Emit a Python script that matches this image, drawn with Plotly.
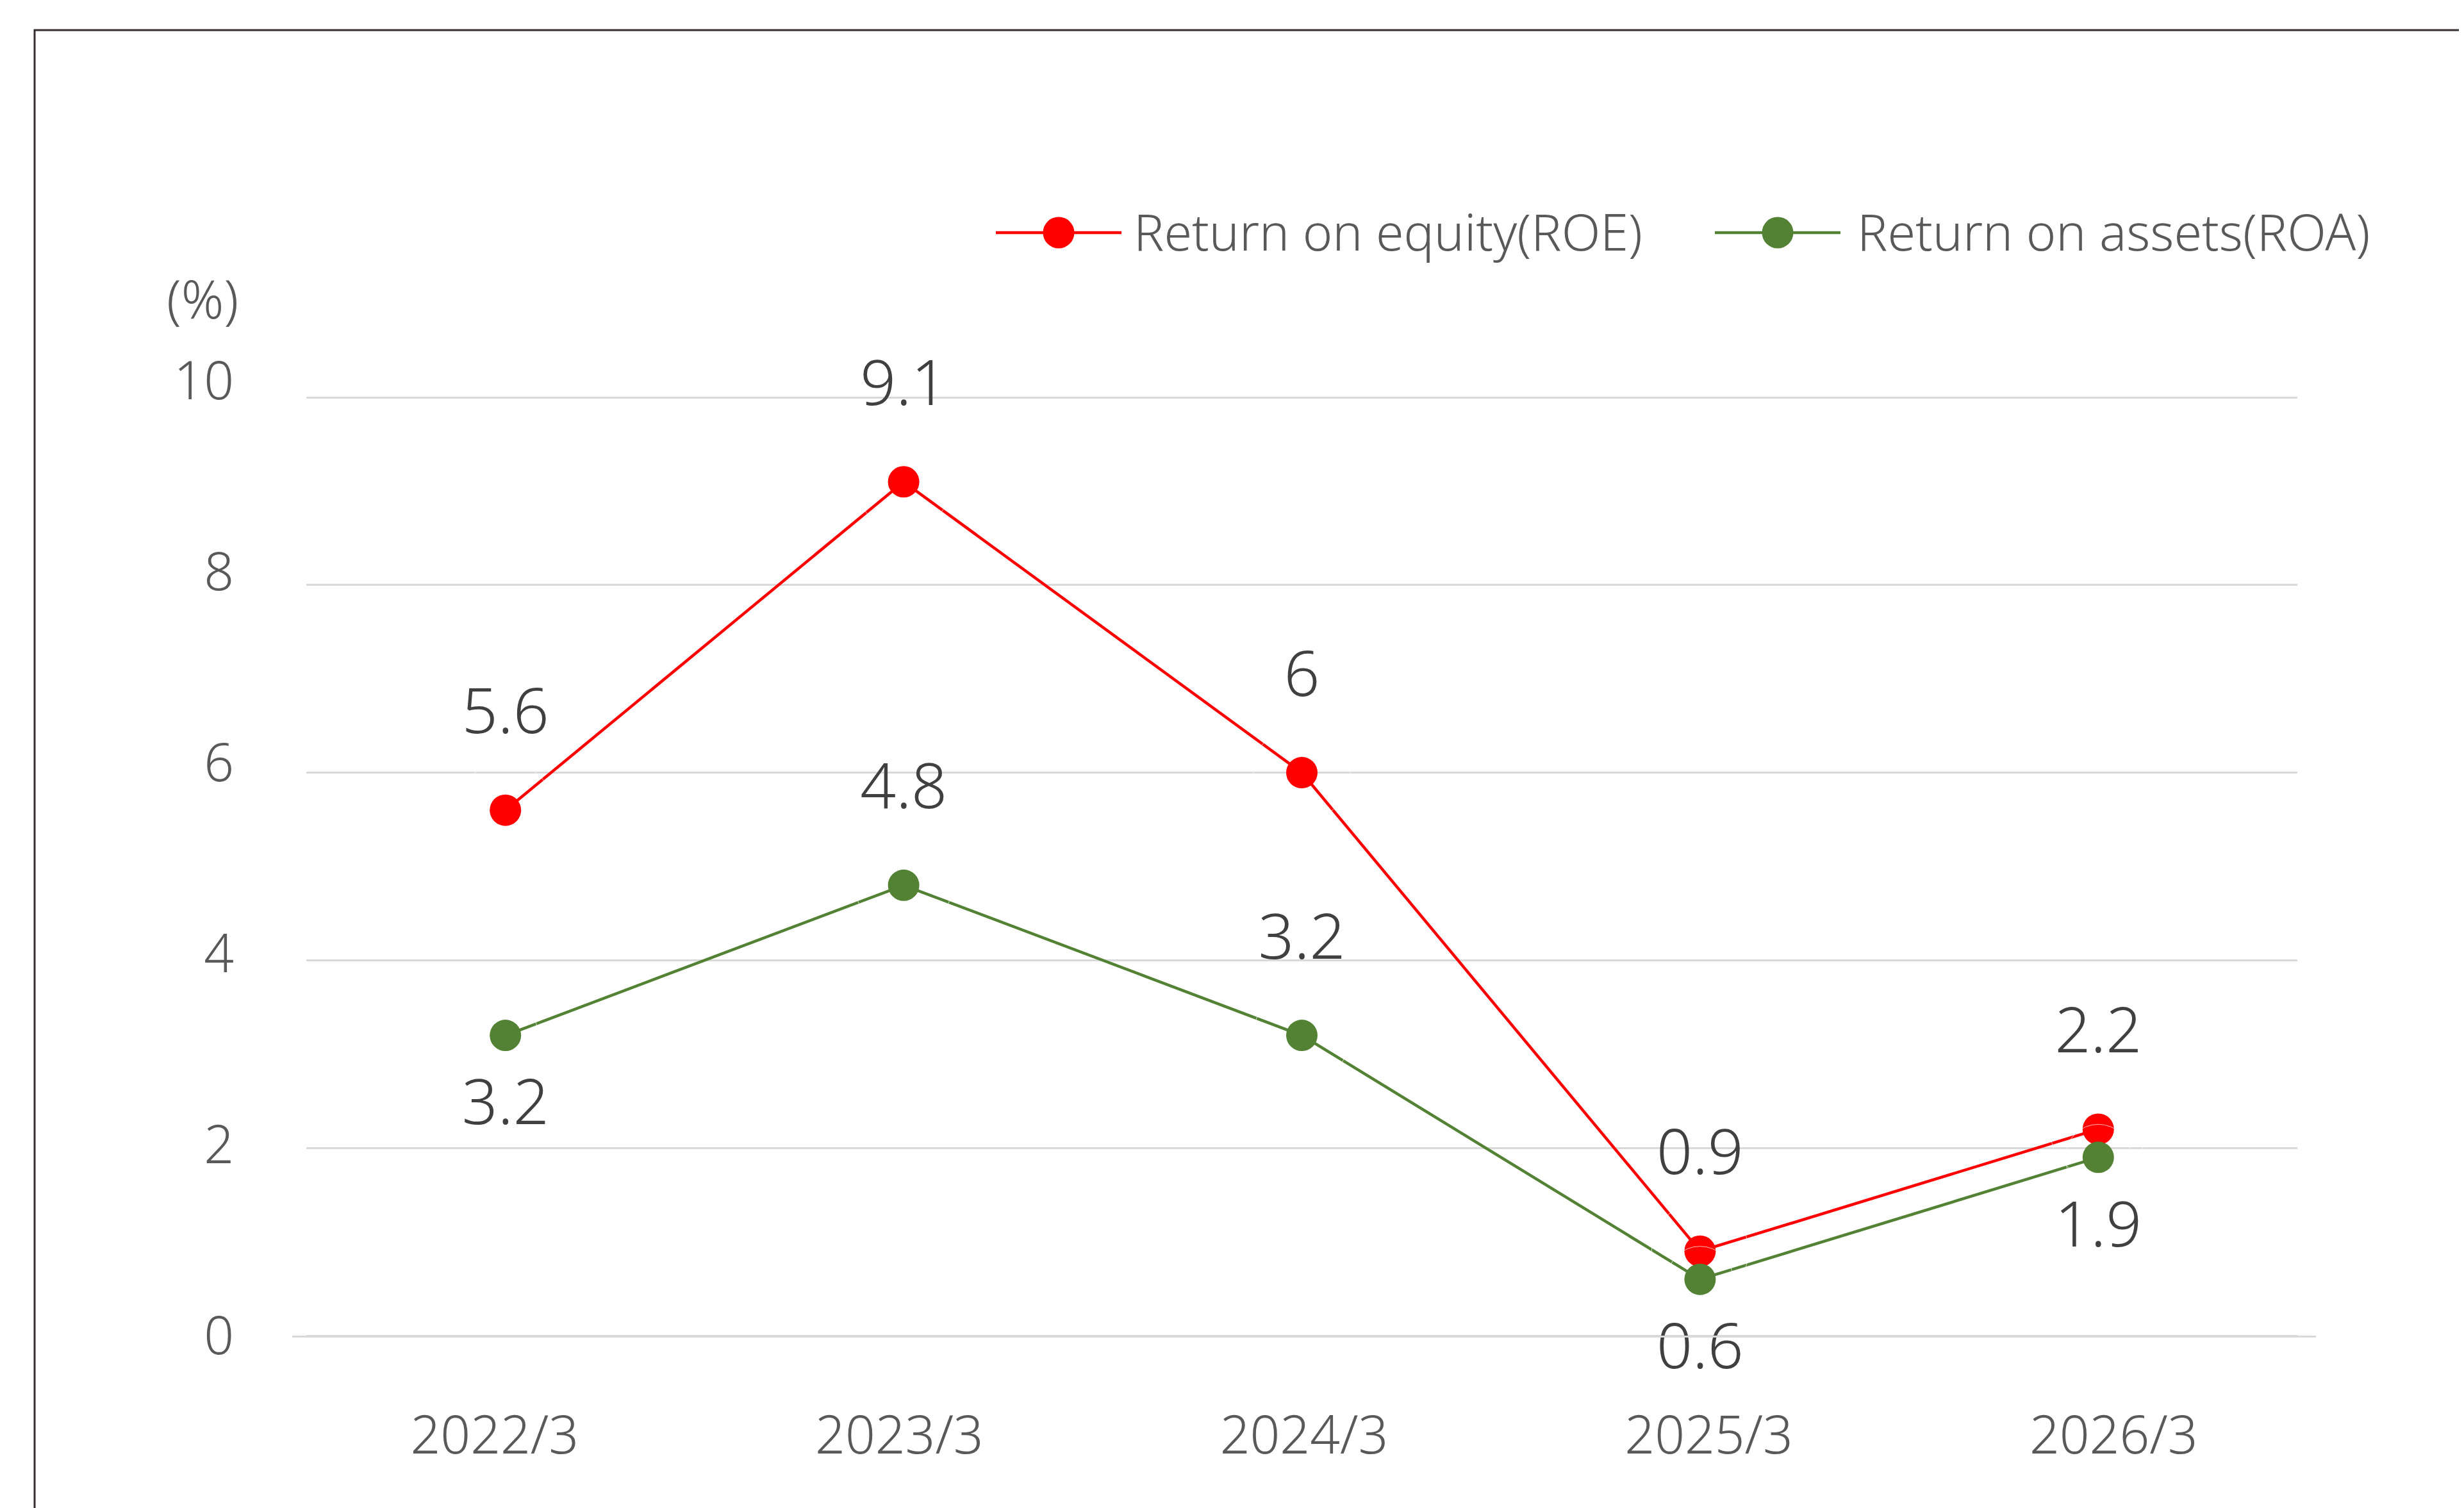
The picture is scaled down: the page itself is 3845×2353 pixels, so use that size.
import plotly.graph_objects as go

# ---------------- data ----------------
categories = ["2022/3", "2023/3", "2024/3", "2025/3", "2026/3"]
roe_values = [5.6, 9.1, 6.0, 0.9, 2.2]
roa_values = [3.2, 4.8, 3.2, 0.6, 1.9]
series_names = ["Return on equity(ROE)", "Return on assets(ROA)"]
y_ticks = [0, 2, 4, 6, 8, 10]
y_unit_label = "(%)"

roe_label_pos = ["top center", "top center", "top center", "top center", "top center"]
roa_label_pos = ["bottom center", "top center", "top center", "bottom center", "bottom center"]

# ---------------- style ----------------
W, H = 3845, 2353
OFF = 8  # page body margin
RED = "#FF0000"
GREEN = "#548235"
GRID = "#D9D9D9"
AXIS_TXT = "#595959"
LABEL_TXT = "#404040"
FONT = "Noto Sans"
WEIGHT = 300
TICK_SIZE = 82
LEG_SIZE = 79
LABEL_SIZE = 98
MARKER = 49
LINE_W = 4.5
# spacer sizes (invisible) that set the distance between point and its label
GAP_ABOVE = 151
GAP_BELOW = 103


def fx(px):
    return (px - OFF) / W


def fy(py):
    return 1 - (py - OFF) / H


# y axis: value 0 at px 2084, value 10 at px 620; pad range so edge gridlines are kept
Y0_PX, Y10_PX = 2084, 620
PAD = 0.05
px_per_unit = (Y0_PX - Y10_PX) / 10.0
y_dom = [fy(Y0_PX + PAD * px_per_unit), fy(Y10_PX - PAD * px_per_unit)]
y_rng = [0 - PAD, 10 + PAD]


def gap_sizes(positions):
    return [GAP_ABOVE if p.startswith("top") else GAP_BELOW for p in positions]


fig = go.Figure()

for vals, name, col, pos in [
    (roe_values, series_names[0], RED, roe_label_pos),
    (roa_values, series_names[1], GREEN, roa_label_pos),
]:
    fig.add_trace(go.Scatter(
        x=categories, y=vals, name=name,
        mode="lines+markers",
        line=dict(color=col, width=LINE_W),
        marker=dict(color=col, size=MARKER),
        cliponaxis=False, showlegend=False, xaxis="x", yaxis="y",
    ))

for vals, name, pos in [
    (roe_values, series_names[0], roe_label_pos),
    (roa_values, series_names[1], roa_label_pos),
]:
    fig.add_trace(go.Scatter(
        x=categories, y=vals, name=name + " labels",
        mode="markers+text",
        marker=dict(color="rgba(0,0,0,0)", size=gap_sizes(pos)),
        texttemplate="%{y}", textposition=pos,
        textfont=dict(family=FONT, size=LABEL_SIZE, color=LABEL_TXT, weight=WEIGHT),
        cliponaxis=False, showlegend=False, hoverinfo="skip",
        xaxis="x", yaxis="y",
    ))

# carrier trace for the labelled category axis
fig.add_trace(go.Scatter(
    x=categories, y=[None] * len(categories), mode="lines",
    showlegend=False, hoverinfo="skip", xaxis="x2", yaxis="y2",
))

tickfont = dict(family=FONT, size=TICK_SIZE, color=AXIS_TXT, weight=WEIGHT)

fig.update_layout(
    width=W, height=H, autosize=False,
    margin=dict(l=0, r=0, t=0, b=0, pad=0, autoexpand=False),
    paper_bgcolor="white", plot_bgcolor="rgba(0,0,0,0)",
    font=dict(family=FONT, color=AXIS_TXT, size=TICK_SIZE, weight=WEIGHT),
    showlegend=False,
    xaxis=dict(
        domain=[fx(478), fx(3585)], anchor="y", type="category",
        categoryorder="array", categoryarray=categories,
        range=[-0.5, len(categories) - 0.5], automargin=False,
        showgrid=False, showline=False, zeroline=False,
        showticklabels=False, ticks="",
    ),
    yaxis=dict(
        domain=y_dom, anchor="x", range=y_rng, automargin=False,
        tickmode="array", tickvals=y_ticks,
        showgrid=True, gridcolor=GRID, gridwidth=3,
        zeroline=False, showline=False, showticklabels=False, ticks="",
    ),
    xaxis2=dict(
        domain=[fx(456), fx(3614)], anchor="y2", type="category",
        categoryorder="array", categoryarray=categories,
        range=[-0.5, len(categories) - 0.5], automargin=False,
        showgrid=False, zeroline=False,
        showline=True, linecolor=GRID, linewidth=3,
        ticks="", tickfont=tickfont,
        ticklabelstandoff=83,
    ),
    yaxis2=dict(
        domain=[fy(2084), fy(594)], anchor="x2", range=[0, 10], automargin=False,
        tickmode="array", tickvals=y_ticks,
        showgrid=False, zeroline=False, showline=False, ticks="",
        tickfont=tickfont,
        ticklabelstandoff=90,
    ),
)

shapes = [
    # chart frame
    dict(type="rect", xref="paper", yref="paper",
         x0=fx(54), y0=fy(47), x1=1.05, y1=-0.05,
         line=dict(color="#342E2E", width=3), fillcolor="rgba(0,0,0,0)",
         layer="below"),
]
annotations = [
    dict(text=y_unit_label, xref="paper", yref="paper", x=fx(316), y=fy(465),
         xanchor="center", yanchor="middle", showarrow=False,
         font=tickfont),
]

# manual legend (large key like the original)
legend_items = [(series_names[0], RED, 1652, 1767), (series_names[1], GREEN, 2774, 2896)]
ly = 363
for name, col, cx, tx in legend_items:
    shapes.append(dict(type="line", xref="paper", yref="paper",
                       x0=fx(cx - 98), x1=fx(cx + 98), y0=fy(ly), y1=fy(ly),
                       line=dict(color=col, width=LINE_W)))
    shapes.append(dict(type="circle", xref="paper", yref="paper",
                       x0=fx(cx - MARKER / 2), x1=fx(cx + MARKER / 2),
                       y0=fy(ly - MARKER / 2), y1=fy(ly + MARKER / 2),
                       line=dict(color=col, width=0), fillcolor=col))
    annotations.append(dict(text=name, xref="paper", yref="paper",
                            x=fx(tx), y=fy(ly - 3), xanchor="left", yanchor="middle",
                            showarrow=False,
                            font=dict(family=FONT, size=LEG_SIZE, color=AXIS_TXT,
                                      weight=WEIGHT)))

fig.update_layout(shapes=shapes, annotations=annotations)

fig.write_html("out.html")
